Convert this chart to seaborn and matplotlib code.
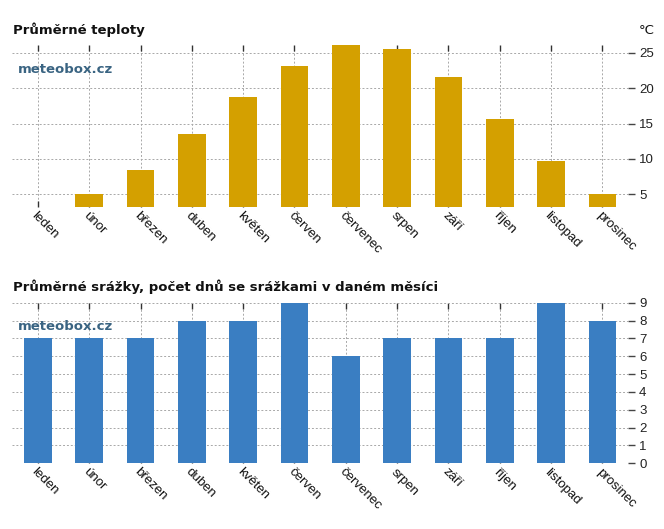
import matplotlib
matplotlib.use("Agg")
import matplotlib.pyplot as plt
import seaborn as sns
import pandas as pd

months = ["leden", "únor", "březen", "duben", "květen", "červen",
          "červenec", "srpen", "září", "říjen", "listopad", "prosinec"]
temperature = [3.2, 5.0, 8.4, 13.5, 18.7, 23.1, 26.1, 25.5, 21.6, 15.7, 9.7, 5.0]
rain_days = [7, 7, 7, 8, 8, 9, 6, 7, 7, 7, 9, 8]
temp_ticks = [5, 10, 15, 20, 25]
rain_ticks = [0, 1, 2, 3, 4, 5, 6, 7, 8, 9]

sns.set_theme(style="white")
plt.rcParams['font.family'] = ['Liberation Sans', 'DejaVu Sans']

df_t = pd.DataFrame({"month": months, "value": temperature})
df_r = pd.DataFrame({"month": months, "value": rain_days})

fig = plt.figure(figsize=(6.64, 5.29), dpi=100)
ax1 = fig.add_axes([0.0185, 0.6087, 0.9273, 0.3062])
ax2 = fig.add_axes([0.0185, 0.1242, 0.9273, 0.3036])

GOLD = "#D4A000"
BLUE = "#3A7EC2"
grid_col = "#a8a8a8"

def style(ax, ticks, ylim):
    ax.set_axisbelow(True)
    ax.set_ylim(*ylim)
    ax.set_xlim(-0.5, len(months) - 0.5)
    ax.yaxis.tick_right()
    ax.set_yticks(ticks)
    ax.grid(True, axis="both", color=grid_col, linestyle=(0, (2.0, 2.0)), linewidth=0.7)
    for s in ax.spines.values():
        s.set_visible(False)
    ax.tick_params(axis="y", which="both", right=True, left=False, direction="out",
                   length=5, width=1, color="#444444", labelsize=9.5, labelcolor="#222222", pad=3)
    ax.tick_params(axis="x", which="both", bottom=True, top=True, direction="in",
                   length=4, width=1, color="#333333", labelsize=9.5, labelcolor="#111111", pad=2)
    ax.set_xticks(range(len(months)))
    ax.set_xticklabels(months, rotation=-45, ha="left", va="top", rotation_mode="anchor")
    ax.set_xlabel("")
    ax.set_ylabel("")

sns.barplot(data=df_t, x="month", y="value", color=GOLD, width=0.54, ax=ax1,
            saturation=1, linewidth=0)
style(ax1, temp_ticks, (min(temperature), max(temperature)))

sns.barplot(data=df_r, x="month", y="value", color=BLUE, width=0.54, ax=ax2,
            saturation=1, linewidth=0)
style(ax2, rain_ticks, (0, max(rain_days)))

title_kw = dict(fontsize=9.5, fontweight="bold", family="DejaVu Sans", color="#111111",
                ha="left", va="center")
fig.text(13 / 664, 1 - 30 / 529, "Průměrné teploty", **title_kw)
fig.text(13 / 664, 1 - 287 / 529, "Průměrné srážky, počet dnů se srážkami v daném měsíci", **title_kw)
fig.text(639 / 664, 1 - 30 / 529, "°C", fontsize=9.5, family="DejaVu Sans", color="#111111",
         ha="left", va="center")

wm_kw = dict(fontsize=9.5, fontweight="bold", family="DejaVu Sans", color="#3a6482",
             ha="left", va="center")
fig.text(18 / 664, 1 - 70 / 529, "meteobox.cz", **wm_kw)
fig.text(18 / 664, 1 - 327 / 529, "meteobox.cz", **wm_kw)

fig.savefig("out.png", dpi=100, facecolor="white")
